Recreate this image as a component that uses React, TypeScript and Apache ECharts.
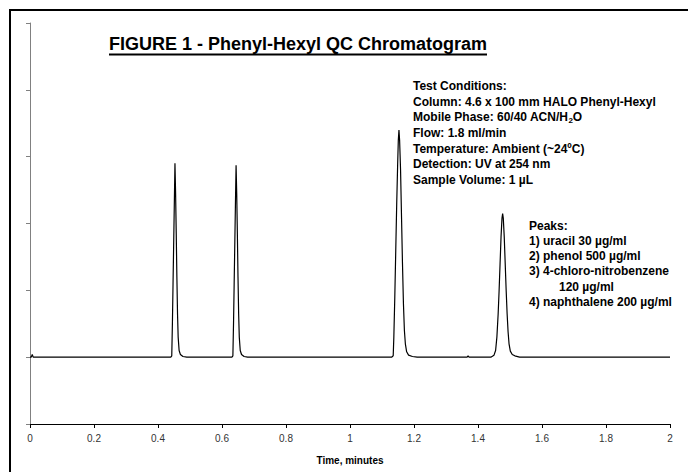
import React, { useEffect, useRef } from "react";
import * as echarts from "echarts";

const FONT = "'Liberation Sans', Arial, Helvetica, sans-serif";

const titleText = "FIGURE 1 - Phenyl-Hexyl QC Chromatogram";
const xAxisName = "Time, minutes";

const conditionLines = [
  "{a|Test Conditions:}",
  "{a|Column: 4.6 x 100 mm HALO Phenyl-Hexyl}",
  "{a|Mobile Phase: 60/40 ACN/H}{s|2}{a|O}",
  "{a|Flow: 1.8 ml/min}",
  "{a|Temperature: Ambient (~24ºC)}",
  "{a|Detection: UV at 254 nm}",
  "{a|Sample Volume: 1 µL}",
];

const peakLines = [
  "Peaks:",
  "1) uracil 30 µg/ml",
  "2) phenol 500 µg/ml",
  "3) 4-chloro-nitrobenzene",
  "         120 µg/ml",
  "4) naphthalene 200 µg/ml",
];

// Chromatogram trace: [time (min), signal]
const baseline: number[][] = [
  [0.0, 1.0], [0.004, 1.0], [0.007, 1.04], [0.01, 1.0], [0.2, 1.0], [0.44, 1.0],
];
const peak1: number[][] = [
  [0.443, 1.02], [0.445, 1.5], [0.447, 2.1], [0.449, 2.7], [0.451, 3.3],
  [0.453, 3.9], [0.455, 3.45], [0.457, 2.85], [0.459, 2.2], [0.461, 1.65],
  [0.463, 1.3], [0.466, 1.1], [0.47, 1.04], [0.478, 1.01], [0.49, 1.0],
];
const peak2: number[][] = [
  [0.631, 1.0], [0.634, 1.02], [0.636, 1.5], [0.638, 2.1], [0.64, 2.7],
  [0.642, 3.3], [0.644, 3.87], [0.646, 3.45], [0.648, 2.85], [0.65, 2.2],
  [0.652, 1.65], [0.654, 1.3], [0.657, 1.1], [0.661, 1.04], [0.669, 1.01],
  [0.68, 1.0], [0.9, 1.0],
];
const peak3: number[][] = [
  [1.13, 1.0], [1.135, 1.02], [1.137, 1.3], [1.14, 1.9], [1.143, 2.6],
  [1.146, 3.3], [1.149, 3.9], [1.151, 4.25], [1.153, 4.4], [1.155, 4.25],
  [1.158, 3.8], [1.161, 3.1], [1.164, 2.4], [1.167, 1.8], [1.17, 1.4],
  [1.173, 1.2], [1.177, 1.08], [1.183, 1.03], [1.195, 1.01], [1.21, 1.0],
  [1.366, 1.0], [1.369, 1.02], [1.372, 1.0],
];
const peak4: number[][] = [
  [1.44, 1.0], [1.45, 1.03], [1.455, 1.1], [1.459, 1.3], [1.463, 1.65],
  [1.466, 2.0], [1.469, 2.4], [1.472, 2.8], [1.475, 3.08], [1.477, 3.15],
  [1.479, 3.08], [1.482, 2.8], [1.485, 2.4], [1.488, 2.0], [1.491, 1.65],
  [1.494, 1.38], [1.497, 1.2], [1.501, 1.09], [1.507, 1.04], [1.515, 1.02],
  [1.53, 1.0], [2.0, 1.0],
];

const trace = [...baseline, ...peak1, ...peak2, ...peak3, ...peak4];

export default function App() {
  const ref = useRef<HTMLDivElement>(null);
  useEffect(() => {
    if (!ref.current) return;
    const chart = echarts.init(ref.current, null, { renderer: "svg" });
    const graphics: any[] = [
      {
        type: "text",
        x: 109,
        y: 44,
        style: {
          text: titleText,
          fontFamily: FONT,
          fontSize: 18,
          fontWeight: "bold",
          fill: "#000",
          align: "left",
          verticalAlign: "middle",
        },
      },
      {
        type: "line",
        shape: { x1: 109, y1: 54.5, x2: 487, y2: 54.5 },
        style: { stroke: "#000", lineWidth: 2 },
      },
    ];
    conditionLines.forEach((t, i) => {
      graphics.push({
        type: "text",
        x: 413,
        y: 86 + 15.67 * i,
        style: {
          text: t,
          fontFamily: FONT,
          fontSize: 12,
          fontWeight: "bold",
          fill: "#000",
          align: "left",
          verticalAlign: "middle",
          rich: {
            a: { fontFamily: FONT, fontSize: 12, fontWeight: "bold", fill: "#000", lineHeight: 14 },
            s: {
              fontFamily: FONT,
              fontSize: 8,
              fontWeight: "bold",
              fill: "#000",
              verticalAlign: "bottom",
              lineHeight: 8,
              padding: [4, 0, 0, 0],
            },
          },
        },
      });
    });
    peakLines.forEach((t, i) => {
      graphics.push({
        type: "text",
        x: 529,
        y: 225.5 + 15.3 * i,
        style: {
          text: t,
          fontFamily: FONT,
          fontSize: 12,
          fontWeight: "bold",
          fill: "#000",
          align: "left",
          verticalAlign: "middle",
        },
      });
    });

    chart.setOption({
      animation: false,
      backgroundColor: "#fff",
      grid: { left: 30, right: 18, top: 23, bottom: 48 },
      xAxis: {
        type: "value",
        min: 0,
        max: 2,
        interval: 0.2,
        name: xAxisName,
        nameLocation: "middle",
        nameGap: 31,
        nameTextStyle: { fontFamily: FONT, fontSize: 10, fontWeight: "bold", color: "#000" },
        axisLine: { show: true, lineStyle: { color: "#000", width: 1 } },
        axisTick: { show: true, length: 4, lineStyle: { color: "#000" } },
        axisLabel: { fontFamily: FONT, fontSize: 10, color: "#333", margin: 9 },
        splitLine: { show: false },
      },
      yAxis: {
        type: "value",
        min: 0,
        max: 6,
        interval: 1,
        axisLine: { show: true, lineStyle: { color: "#808080", width: 1 } },
        axisTick: { show: true, length: 4, lineStyle: { color: "#808080" } },
        axisLabel: { show: false },
        splitLine: { show: false },
      },
      series: [
        {
          type: "line",
          data: trace,
          showSymbol: false,
          symbol: "none",
          lineStyle: { color: "#000", width: 1.2 },
          silent: true,
        },
      ],
      graphic: graphics,
    });
    return () => chart.dispose();
  }, []);
  return (
    <div style={{ position: "fixed", left: 0, top: 0, width: 688, height: 472, overflow: "hidden" }}>
      <div ref={ref} style={{ position: "absolute", left: 0, top: 0, width: 688, height: 472 }} />
      <div
        style={{
          position: "absolute",
          left: 9,
          top: 9,
          width: 700,
          height: 500,
          borderLeft: "2px solid #000",
          borderTop: "2px solid #000",
          pointerEvents: "none",
        }}
      />
    </div>
  );
}
